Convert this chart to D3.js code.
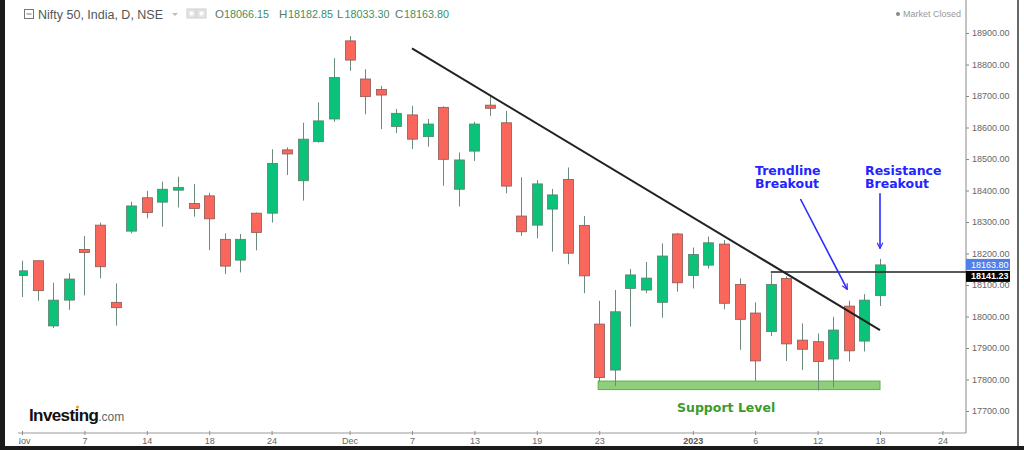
<!DOCTYPE html>
<html>
<head>
<meta charset="utf-8">
<script src="https://cdn.jsdelivr.net/npm/d3@7"></script>
<style>
  html, body { margin: 0; padding: 0; background: #fff; }
  svg { display: block; }
  .axis text { font-family: 'Liberation Sans', Arial, sans-serif; font-size: 9px; fill: #666; }
  .axis line { stroke: #888; }
  .axis path { display: none; }
</style>
</head>
<body>
<div id="chart"></div>
<script>
// trading days shown (Nov 1 2022 .. Jan 18 2023)
const dates = [
  'Nov 1', 'Nov 2', 'Nov 3', 'Nov 4', 'Nov 7', 'Nov 9', 'Nov 10', 'Nov 11', 'Nov 14', 'Nov 15',
  'Nov 16', 'Nov 17', 'Nov 18', 'Nov 21', 'Nov 22', 'Nov 23', 'Nov 24', 'Nov 25', 'Nov 28', 'Nov 29',
  'Nov 30', 'Dec 1', 'Dec 2', 'Dec 5', 'Dec 6', 'Dec 7', 'Dec 8', 'Dec 9', 'Dec 12', 'Dec 13',
  'Dec 14', 'Dec 15', 'Dec 16', 'Dec 19', 'Dec 20', 'Dec 21', 'Dec 22', 'Dec 23', 'Dec 26', 'Dec 27',
  'Dec 28', 'Dec 29', 'Dec 30', 'Jan 2', 'Jan 3', 'Jan 4', 'Jan 5', 'Jan 6', 'Jan 9', 'Jan 10',
  'Jan 11', 'Jan 12', 'Jan 13', 'Jan 16', 'Jan 17', 'Jan 18'
];
const opens = [
  18130, 18177, 17970, 18052, 18213, 18290, 18045, 18271, 18377, 18363,
  18401, 18359, 18383, 18245, 18179, 18328, 18328, 18529, 18431, 18555,
  18627, 18875, 18754, 18721, 18603, 18640, 18571, 18664, 18404, 18525,
  18671, 18615, 18319, 18290, 18341, 18435, 18289, 17976, 17830, 18089,
  18084, 18045, 18262, 18130, 18163, 18230, 18102, 18011, 17952, 18121,
  17925, 17920, 17865, 18033, 17922, 18066.15
];
const highs = [
  18177, 18178, 18107, 18137, 18256, 18298, 18105, 18364, 18399, 18428,
  18444, 18421, 18393, 18264, 18262, 18330, 18531, 18537, 18615, 18680,
  18820, 18890, 18785, 18732, 18659, 18669, 18627, 18667, 18521, 18618,
  18700, 18653, 18442, 18433, 18405, 18473, 18319, 18050, 18084, 18151,
  18173, 18232, 18265, 18219, 18254, 18243, 18121, 18045, 18137, 18127,
  17978, 17946, 17999, 18050, 18071, 18182.85
];
const lows = [
  18062, 18050, 17963, 18021, 18067, 18121, 17971, 18264, 18312, 18285,
  18346, 18317, 18211, 18135, 18140, 18210, 18298, 18449, 18368, 18552,
  18618, 18780, 18642, 18595, 18582, 18532, 18539, 18415, 18349, 18494,
  18637, 18391, 18256, 18248, 18206, 18166, 18074, 17794, 17779, 17968,
  18074, 17996, 18079, 18089, 18152, 18023, 17894, 17796, 17938, 17859,
  17830, 17765, 17775, 17857, 17889, 18033.30
];
const closes = [
  18145, 18082, 18052, 18119, 18203, 18158, 18028, 18351, 18330, 18404,
  18410, 18343, 18310, 18160, 18245, 18267, 18486, 18516, 18563, 18621,
  18759, 18814, 18698, 18703, 18645, 18563, 18611, 18499, 18497, 18611,
  18661, 18414, 18269, 18421, 18386, 18201, 18129, 17806, 18015, 18132,
  18122, 18192, 18107, 18197, 18234, 18042, 17991, 17859, 18102, 17913,
  17896, 17857, 17957, 17891, 18052, 18163.80
];

// x axis ticks (bar index -> label), incl. future slots up to Jan 24
const xTickIdx = [0, 4, 8, 12, 16, 21, 25, 29, 33, 37, 43, 47, 51, 55, 59];
const xTickLabels = ['Nov', '7', '14', '18', '24', 'Dec', '7', '13', '19', '23', '2023', '6', '12', '18', '24'];
const yTicks = [17700, 17800, 17900, 18000, 18100, 18200, 18300, 18400, 18500, 18600, 18700, 18800, 18900];

// drawings
const trendIdx = [25, 55];
const trendVal = [18851, 17957];
const resistanceIdx = 48;
const resistanceVal = 18141.23;
const supportIdx = [37, 55];
const supportVal = [17768, 17795];
const trendArrowIdx = [49.9, 52.9];
const trendArrowVal = [18373, 18086];
const resArrowIdx = [55, 55];
const resArrowVal = [18391, 18216];

const W = 1024, H = 450;
const plotRight = 966, plotBottom = 433;
const GREEN = '#0bc27a', RED = '#f9665c', WICK = '#6d8b7c';

const candles = dates.map((d, i) => ({
  date: d, i, o: opens[i], h: highs[i], l: lows[i], c: closes[i]
}));

const svg = d3.select('#chart').append('svg')
  .attr('width', W)
  .attr('height', H);

const x = d3.scaleLinear().domain([0, 55]).range([22, 880]);
const y = d3.scaleLinear().domain([17700, 18900]).range([411, 33]);

const defs = svg.append('defs');
defs.append('clipPath').attr('id', 'plot-clip')
  .append('rect').attr('x', 19).attr('y', 0).attr('width', plotRight - 19).attr('height', plotBottom);
defs.append('clipPath').attr('id', 'plot-clip-x')
  .append('rect').attr('x', 19).attr('y', -5).attr('width', W).attr('height', 30);

// arrow marker
defs.append('marker')
  .attr('id', 'arrow')
  .attr('viewBox', '0 0 10 10')
  .attr('refX', 9).attr('refY', 5)
  .attr('markerWidth', 7).attr('markerHeight', 7)
  .attr('markerUnits', 'userSpaceOnUse')
  .attr('orient', 'auto')
  .append('path')
  .attr('d', 'M1,1 L9,5 L1,9')
  .attr('fill', 'none')
  .attr('stroke', '#2b2bff')
  .attr('stroke-width', 1.6);

// axes
svg.append('g')
  .attr('class', 'axis')
  .attr('transform', `translate(${plotRight},0)`)
  .call(d3.axisRight(y).tickValues(yTicks).tickSize(3).tickPadding(3).tickFormat(d3.format('.2f')));

svg.append('line')
  .attr('x1', plotRight).attr('x2', plotRight)
  .attr('y1', 0).attr('y2', plotBottom)
  .attr('stroke', '#888');

const xAxis = svg.append('g')
  .attr('class', 'axis')
  .attr('clip-path', 'url(#plot-clip-x)')
  .attr('transform', `translate(0,${plotBottom})`)
  .call(d3.axisBottom(x).tickValues(xTickIdx).tickSize(3).tickPadding(2)
    .tickFormat((d, i) => xTickLabels[i]));
xAxis.selectAll('.tick line').attr('y1', -2).attr('y2', 2);
xAxis.selectAll('.tick text').filter((d, i) => xTickLabels[i] === '2023')
  .style('font-weight', '700').style('fill', '#555');

svg.append('line')
  .attr('x1', 18).attr('x2', plotRight)
  .attr('y1', plotBottom).attr('y2', plotBottom)
  .attr('stroke', '#999');

// support zone
svg.append('rect')
  .attr('x', x(supportIdx[0]) - 1)
  .attr('y', y(supportVal[1]))
  .attr('width', x(supportIdx[1]) - x(supportIdx[0]) + 1)
  .attr('height', y(supportVal[0]) - y(supportVal[1]))
  .attr('fill', '#8fcf7c')
  .attr('stroke', '#5fae4c')
  .attr('stroke-width', 1);

// candles
const plot = svg.append('g').attr('clip-path', 'url(#plot-clip)');
const bodyW = 10;

const candleG = plot.selectAll('.candle')
  .data(candles)
  .join('g')
  .attr('class', 'candle');

candleG.append('line')
  .attr('x1', d => Math.round(x(d.i)) + 0.5)
  .attr('x2', d => Math.round(x(d.i)) + 0.5)
  .attr('y1', d => y(d.h))
  .attr('y2', d => y(d.l))
  .attr('stroke', WICK)
  .attr('stroke-width', 1);

candleG.append('rect')
  .attr('x', d => Math.round(x(d.i)) + 0.5 - bodyW / 2)
  .attr('y', d => y(Math.max(d.o, d.c)))
  .attr('width', bodyW)
  .attr('height', d => Math.max(2, Math.abs(y(d.o) - y(d.c))))
  .attr('fill', d => d.c >= d.o ? GREEN : RED)
  .attr('stroke', d => d.c >= d.o ? '#5c7f6c' : '#8d5a55')
  .attr('stroke-width', 0.8);

// trendline
svg.append('line')
  .attr('x1', x(trendIdx[0])).attr('y1', y(trendVal[0]))
  .attr('x2', x(trendIdx[1])).attr('y2', y(trendVal[1]))
  .attr('stroke', '#222')
  .attr('stroke-width', 2);

// resistance
svg.append('line')
  .attr('x1', x(resistanceIdx)).attr('x2', plotRight)
  .attr('y1', y(resistanceVal)).attr('y2', y(resistanceVal))
  .attr('stroke', '#222')
  .attr('stroke-width', 1.6);

// arrows
svg.append('line')
  .attr('x1', x(trendArrowIdx[0])).attr('y1', y(trendArrowVal[0]))
  .attr('x2', x(trendArrowIdx[1])).attr('y2', y(trendArrowVal[1]))
  .attr('stroke', '#2b2bff').attr('stroke-width', 1.6)
  .attr('marker-end', 'url(#arrow)');

svg.append('line')
  .attr('x1', x(resArrowIdx[0])).attr('y1', y(resArrowVal[0]))
  .attr('x2', x(resArrowIdx[1])).attr('y2', y(resArrowVal[1]))
  .attr('stroke', '#2b2bff').attr('stroke-width', 1.6)
  .attr('marker-end', 'url(#arrow)');

// annotation text
const note = (tx, ty, lines, color) => {
  const t = svg.append('text')
    .attr('x', tx).attr('y', ty)
    .attr('fill', color)
    .style('font-family', "'DejaVu Sans', Verdana, sans-serif")
    .style('font-weight', '700')
    .style('font-size', '12.5px');
  lines.forEach((s, k) => {
    t.append('tspan').attr('x', tx).attr('dy', k === 0 ? 0 : 13).text(s);
  });
};
note(755, 175, ['Trendline', 'Breakout'], '#2424ff');
note(865, 175, ['Resistance', 'Breakout'], '#2424ff');
note(677, 412, ['Support Level'], '#3c9a2c');

// price labels
const lastClose = closes[closes.length - 1];
const blueY = y(lastClose);
svg.append('rect')
  .attr('x', plotRight).attr('y', blueY - 6)
  .attr('width', 44).attr('height', 11)
  .attr('fill', '#4f7fe8');
svg.append('text')
  .attr('x', plotRight + 5).attr('y', blueY + 3)
  .attr('fill', '#fff')
  .style('font-family', "'Liberation Sans', Arial, sans-serif")
  .style('font-size', '9px')
  .text(d3.format('.2f')(lastClose));

const blackY = blueY + 6;
svg.append('rect')
  .attr('x', plotRight).attr('y', blackY)
  .attr('width', 44).attr('height', 11)
  .attr('fill', '#000');
svg.append('text')
  .attr('x', plotRight + 5).attr('y', blackY + 8.5)
  .attr('fill', '#fff')
  .style('font-family', "'Liberation Sans', Arial, sans-serif")
  .style('font-size', '9px')
  .style('font-weight', '700')
  .text(d3.format('.2f')(resistanceVal));

// header
const header = svg.append('g').style('font-family', "'Liberation Sans', Arial, sans-serif");
header.append('rect')
  .attr('x', 24.5).attr('y', 9.5).attr('width', 9).attr('height', 9)
  .attr('fill', 'none').attr('stroke', '#777');
header.append('line')
  .attr('x1', 26.5).attr('x2', 31.5).attr('y1', 14).attr('y2', 14)
  .attr('stroke', '#777');
header.append('text')
  .attr('x', 38).attr('y', 18.5)
  .attr('fill', '#555')
  .style('font-size', '12.5px')
  .text('Nifty 50, India, D, NSE');
header.append('path')
  .attr('d', 'M172,13 L178,13 L175,16 Z')
  .attr('fill', '#bbb');
[187, 197].forEach(ix => {
  header.append('rect')
    .attr('x', ix).attr('y', 9).attr('width', 9).attr('height', 9)
    .attr('fill', '#e4e4e4').attr('stroke', '#d0d0d0');
  header.append('circle')
    .attr('cx', ix + 4.5).attr('cy', 13.5).attr('r', 2)
    .attr('fill', '#fff');
});
const ohlcKeys = ['O', 'H', 'L', 'C'];
const ohlcVals = [opens[55], highs[55], lows[55], closes[55]];
const ohlcX = [215, 279, 337, 395];
const ohlcGap = [9, 9, 7.5, 9];
ohlcKeys.forEach((k, j) => {
  header.append('text')
    .attr('x', ohlcX[j]).attr('y', 18)
    .attr('fill', '#5e7a68')
    .style('font-size', '11.5px')
    .text(k);
  header.append('text')
    .attr('x', ohlcX[j] + ohlcGap[j]).attr('y', 18)
    .attr('fill', '#3f8f65')
    .attr('textLength', 45)
    .attr('lengthAdjust', 'spacingAndGlyphs')
    .style('font-size', '11.5px')
    .text(d3.format('.2f')(ohlcVals[j]));
});

svg.append('circle').attr('cx', 898).attr('cy', 14).attr('r', 2).attr('fill', '#888');
svg.append('text')
  .attr('x', 903).attr('y', 17)
  .attr('fill', '#999')
  .style('font-family', "'Liberation Sans', Arial, sans-serif")
  .style('font-size', '9px')
  .text('Market Closed');

// logo
const logo = svg.append('text')
  .attr('x', 29).attr('y', 421)
  .style('font-family', "'Liberation Sans', Arial, sans-serif");
logo.append('tspan')
  .attr('fill', '#111')
  .style('font-size', '17px')
  .style('font-weight', '700')
  .style('letter-spacing', '-0.6px')
  .text('Investing');
logo.append('tspan')
  .attr('fill', '#666')
  .style('font-size', '12px')
  .text('.com');
svg.append('circle').attr('cx', 77.5).attr('cy', 407).attr('r', 1.6).attr('fill', '#f0a030');

// frame
svg.append('rect').attr('x', 0).attr('y', 0).attr('width', 5).attr('height', H).attr('fill', '#1b1b1b');
svg.append('rect').attr('x', 0).attr('y', 446).attr('width', W).attr('height', 4).attr('fill', '#1b1b1b');
svg.append('line')
  .attr('x1', 1018).attr('x2', 1018).attr('y1', 0).attr('y2', 446)
  .attr('stroke', '#333').attr('stroke-width', 1.5);
</script>
</body>
</html>
